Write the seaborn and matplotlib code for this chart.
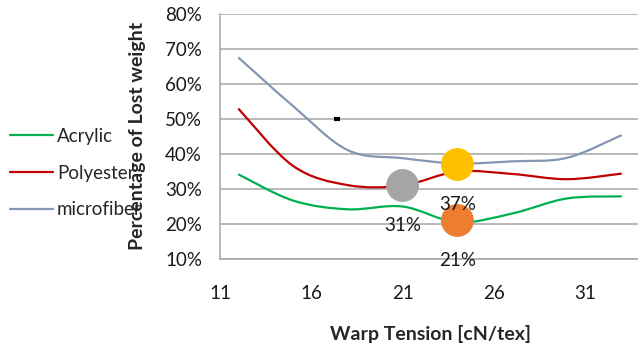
import numpy as np
import pandas as pd
import seaborn as sns
import matplotlib.pyplot as plt
from matplotlib.path import Path
from matplotlib.patches import PathPatch
from matplotlib.lines import Line2D
from matplotlib.ticker import PercentFormatter

# data
tension = [12, 15, 18, 21, 24, 27, 30, 33]
acrylic = [0.342, 0.267, 0.242, 0.250, 0.205, 0.230, 0.273, 0.279]
polyester = [0.530, 0.366, 0.311, 0.310, 0.350, 0.343, 0.328, 0.344]
microfiber = [0.676, 0.537, 0.411, 0.388, 0.373, 0.379, 0.389, 0.454]
series_names = ["Acrylic", "Polyester", "microfiber"]
series_colors = ["#00B050", "#C00000", "#8497B0"]

# highlighted points
mark_x = [21, 24, 24]
mark_y = [0.31, 0.37, 0.21]
mark_labels = ["31%", "37%", "21%"]
mark_colors = ["#A5A5A5", "#FFC000", "#ED7D31"]

# stray little mark in the plot area
stray_x = [17.39]
stray_y = [0.501]

sns.set_style("white")
plt.rcParams["font.family"] = ["Lato", "DejaVu Sans"]

df = pd.DataFrame({
    "tension": tension * 3,
    "loss": acrylic + polyester + microfiber,
    "fabric": [n for n in series_names for _ in tension],
})

fig = plt.figure(figsize=(6.38, 3.49), dpi=100)
ax = fig.add_axes([220 / 638, 1 - 259 / 349, 418 / 638, 245 / 349])

sns.lineplot(data=df, x="tension", y="loss", hue="fabric", hue_order=series_names,
             palette=series_colors, linewidth=1.6, legend=False, ax=ax)


def smooth_path(xs, ys):
    # Catmull-Rom style bezier, like Excel's smoothed line
    pts = np.column_stack([xs, ys])
    n = len(pts)
    verts = [pts[0]]
    codes = [Path.MOVETO]
    for i in range(n - 1):
        p0 = pts[max(i - 1, 0)]
        p1 = pts[i]
        p2 = pts[i + 1]
        p3 = pts[min(i + 2, n - 1)]
        verts += [p1 + (p2 - p0) / 6, p2 - (p3 - p1) / 6, p2]
        codes += [Path.CURVE4] * 3
    return Path(verts, codes)


# swap the straight seaborn lines for smoothed ones
for line in list(ax.lines):
    xy = line.get_xydata()
    patch = PathPatch(smooth_path(xy[:, 0], xy[:, 1]), facecolor="none",
                      edgecolor=line.get_color(), lw=line.get_linewidth(), zorder=2)
    ax.add_patch(patch)
    line.remove()

sns.scatterplot(x=mark_x, y=mark_y, hue=mark_labels, palette=mark_colors,
                s=560, linewidth=0, legend=False, zorder=3, ax=ax)
for x, y, lab in zip(mark_x, mark_y, mark_labels):
    ax.annotate(lab, (x, y), xytext=(0, -29), textcoords="offset points",
                ha="center", va="center", fontsize=13.5, color="#1a1a1a", zorder=4)

ax.plot(stray_x, stray_y, marker="_", color="black", markersize=5, mew=3, ls="none")

ax.set_xlim(11, 11 + 418 / 18.26)
ax.set_ylim(0.10, 0.80)
ax.set_xticks([11, 16, 21, 26, 31])
ax.set_yticks(np.arange(0.1, 0.81, 0.1))
ax.yaxis.set_major_formatter(PercentFormatter(1.0, decimals=0))
ax.grid(axis="y", color="#A6A6A6", lw=1.1)
ax.set_axisbelow(True)
ax.tick_params(axis="both", length=0, labelsize=13.5, colors="#1a1a1a")
ax.tick_params(axis="x", pad=19)
ax.tick_params(axis="y", pad=13)
for side in ["top", "right"]:
    ax.spines[side].set_visible(False)
for side in ["left", "bottom"]:
    ax.spines[side].set_color("#A6A6A6")
    ax.spines[side].set_linewidth(1.1)
ax.set_xlabel("")
ax.set_ylabel("")

fig.text(137 / 638, 1 - 136 / 349, "Percentage of Lost weight", rotation=90,
         ha="center", va="center", fontsize=14, fontweight="bold")
fig.text(430 / 638, 1 - 334 / 349, "Warp Tension [cN/tex]",
         ha="center", va="center", fontsize=14, fontweight="bold")

handles = [Line2D([], [], color=c, lw=1.6) for c in series_colors]
fig.legend(handles, series_names, loc="center left", bbox_to_anchor=(10 / 638, 1 - 173 / 349),
           frameon=False, fontsize=13.5, handlelength=2.3, handletextpad=0.2,
           labelspacing=1.05, borderpad=0, borderaxespad=0)

fig.savefig("out.png", dpi=100)
